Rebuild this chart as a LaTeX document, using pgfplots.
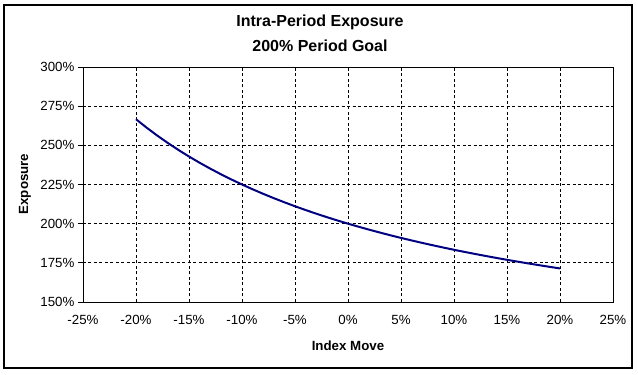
\documentclass[border=0pt]{standalone}
\usepackage{fontspec}
\setmainfont{Liberation Sans}
\usepackage{pgfplots}
\pgfplotsset{compat=1.18}
\begin{document}
\begin{tikzpicture}[x=1pt,y=1pt]
\useasboundingbox (0,0) rectangle (638,375);
\draw[line width=1.5pt] (4,7) rectangle (632,370);
\node[font=\fontsize{16}{19}\selectfont\bfseries] at (320,353) {Intra-Period Exposure};
\node[font=\fontsize{16}{19}\selectfont\bfseries] at (320,329) {200\% Period Goal};
\node[font=\fontsize{13.3}{16}\selectfont\bfseries, rotate=90] at (25,191) {Exposure};
\node[font=\fontsize{13.3}{16}\selectfont\bfseries] at (348,29) {Index Move};
\begin{axis}[
  at={(83pt,73pt)}, anchor=south west, scale only axis,
  width=530pt, height=235pt,
  xmin=-25, xmax=25, ymin=150, ymax=300,
  xtick={-25,-20,...,25}, ytick={150,175,...,300},
  xticklabel={\pgfmathprintnumber{\tick}\%},
  yticklabel={\pgfmathprintnumber{\tick}\%},
  /pgf/number format/assume math mode=true,
  ticklabel style={font=\fontsize{13.3}{16}\selectfont},
  xticklabel style={yshift=-5pt},
  xtick style={draw=none},
  ytick style={black, line width=0.8pt},
  major tick length=5pt,
  tick align=outside,
  tick pos=left,
  axis line style={black, line width=0.9pt},
  grid=major,
  grid style={black, line width=0.8pt, dash pattern=on 3pt off 2.5pt},
]
\addplot[color={rgb,255:red,0;green,0;blue,128}, line width=2pt, no marks] coordinates {
(-20,266.67) (-19,261.29) (-18,256.25) (-17,251.52) (-16,247.06) (-15,242.86)
(-14,238.89) (-13,235.14) (-12,231.58) (-11,228.21) (-10,225.00) (-9,221.95)
(-8,219.05) (-7,216.28) (-6,213.64) (-5,211.11) (-4,208.70) (-3,206.38)
(-2,204.17) (-1,202.04) (0,200.00) (1,198.04) (2,196.15) (3,194.34)
(4,192.59) (5,190.91) (6,189.29) (7,187.72) (8,186.21) (9,184.75)
(10,183.33) (11,181.97) (12,180.65) (13,179.37) (14,178.13) (15,176.92)
(16,175.76) (17,174.63) (18,173.53) (19,172.46) (20,171.43)
};
\end{axis}
\end{tikzpicture}
\end{document}
